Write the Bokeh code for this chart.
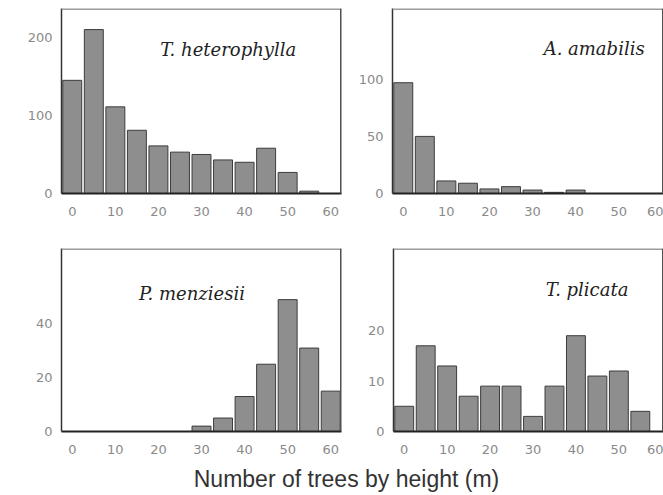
from bokeh.plotting import figure
from bokeh.layouts import column, row
from bokeh.models import ColumnDataSource, FixedTicker, Range1d, Span
from bokeh.core.properties import value
from bokeh.embed import file_html
from bokeh.resources import INLINE

# Height classes (m), lower bound of each 5 m class
heights = [0, 5, 10, 15, 20, 25, 30, 35, 40, 45, 50, 55, 60]

# Number of trees per height class, one list per species
t_heterophylla = [145, 210, 111, 81, 61, 53, 50, 43, 40, 58, 27, 3, 0]
a_amabilis = [97, 50, 11, 9, 4, 6, 3, 1, 3, 0, 0, 0, 0]
p_menziesii = [0, 0, 0, 0, 0, 0, 2, 5, 13, 25, 49, 31, 15]
t_plicata = [5, 17, 13, 7, 9, 9, 3, 9, 19, 11, 12, 4, 0]

species = ["T. heterophylla", "A. amabilis", "P. menziesii", "T. plicata"]
x_ticks = [0, 10, 20, 30, 40, 50, 60]
y_ticks = [[0, 100, 200], [0, 50, 100], [0, 20, 40], [0, 10, 20]]
y_tops = [237, 162, 68, 36.3]
label_pos = [(36.2, 184.6), (44.3, 127), (27.8, 51.2), (42.6, 28.1)]


def panel(counts, name, yt, ytop, lpos, width, height, x_end,
          left, right, top, bottom):
    p = figure(width=width, height=height, output_backend="svg",
               toolbar_location=None,
               x_range=Range1d(-2.5, x_end), y_range=Range1d(0, ytop),
               min_border_left=left, min_border_right=right,
               min_border_top=top, min_border_bottom=bottom)
    src = ColumnDataSource(dict(x=heights, top=counts))
    p.vbar(x="x", top="top", width=4.4, source=src,
           fill_color="#8e8e8e", line_color="#3c3c3c", line_width=1)
    p.xgrid.visible = False
    p.ygrid.visible = False
    # frame: light top edge, darker right edge
    p.outline_line_color = None
    p.add_layout(Span(location=ytop, dimension="width",
                      line_color="#9c9c9c", line_width=3))
    p.add_layout(Span(location=x_end, dimension="height",
                      line_color="#505050", line_width=3))

    p.xaxis.ticker = FixedTicker(ticks=x_ticks)
    p.yaxis.ticker = FixedTicker(ticks=yt)
    for ax in (p.xaxis, p.yaxis):
        ax.major_tick_line_color = None
        ax.minor_tick_line_color = None
        ax.major_label_text_font = "DejaVu Sans"
        ax.major_label_text_font_size = "13px"
        ax.major_label_text_color = "#8a8a8a"
    p.xaxis.major_tick_out = 0
    p.xaxis.major_label_standoff = 13
    p.xaxis.axis_line_color = "#222222"
    p.xaxis.axis_line_width = 2
    p.yaxis.major_tick_out = 0
    p.yaxis.major_label_standoff = 9
    p.yaxis.axis_line_color = "#333333"
    p.yaxis.axis_line_width = 1.5

    p.text(x=[lpos[0]], y=[lpos[1]], text=[name],
           text_font=value("DejaVu Serif"), text_font_style="italic",
           text_font_size="18px", text_color="#222222",
           text_align="center", text_baseline="middle")
    return p


pa = panel(t_heterophylla, species[0], y_ticks[0], y_tops[0], label_pos[0],
           345, 230, 62.5, 61, 4, 8, 37)
pb = panel(a_amabilis, species[1], y_ticks[1], y_tops[1], label_pos[1],
           318, 230, 60.4, 47, 0, 8, 37)
pc = panel(p_menziesii, species[2], y_ticks[2], y_tops[2], label_pos[2],
           345, 231, 62.5, 61, 4, 16, 30)
pd = panel(t_plicata, species[3], y_ticks[3], y_tops[3], label_pos[3],
           318, 231, 60.4, 48, 0, 18, 28)

# Shared axis title underneath the four panels
lab = figure(width=663, height=34, output_backend="svg", toolbar_location=None,
             x_range=Range1d(0, 663), y_range=Range1d(0, 34),
             x_axis_location=None, y_axis_location=None,
             min_border=0)
lab.xgrid.visible = False
lab.ygrid.visible = False
lab.outline_line_color = None
lab.text(x=[346], y=[17], text=["Number of trees by height (m)"],
         text_font=value("Liberation Sans"), text_font_size="23px",
         text_color="#333333", text_align="center",
         text_baseline="middle")

layout = column(row(pa, pb), row(pc, pd), lab)

with open("out.html", "w") as f:
    f.write(file_html(layout, INLINE))
